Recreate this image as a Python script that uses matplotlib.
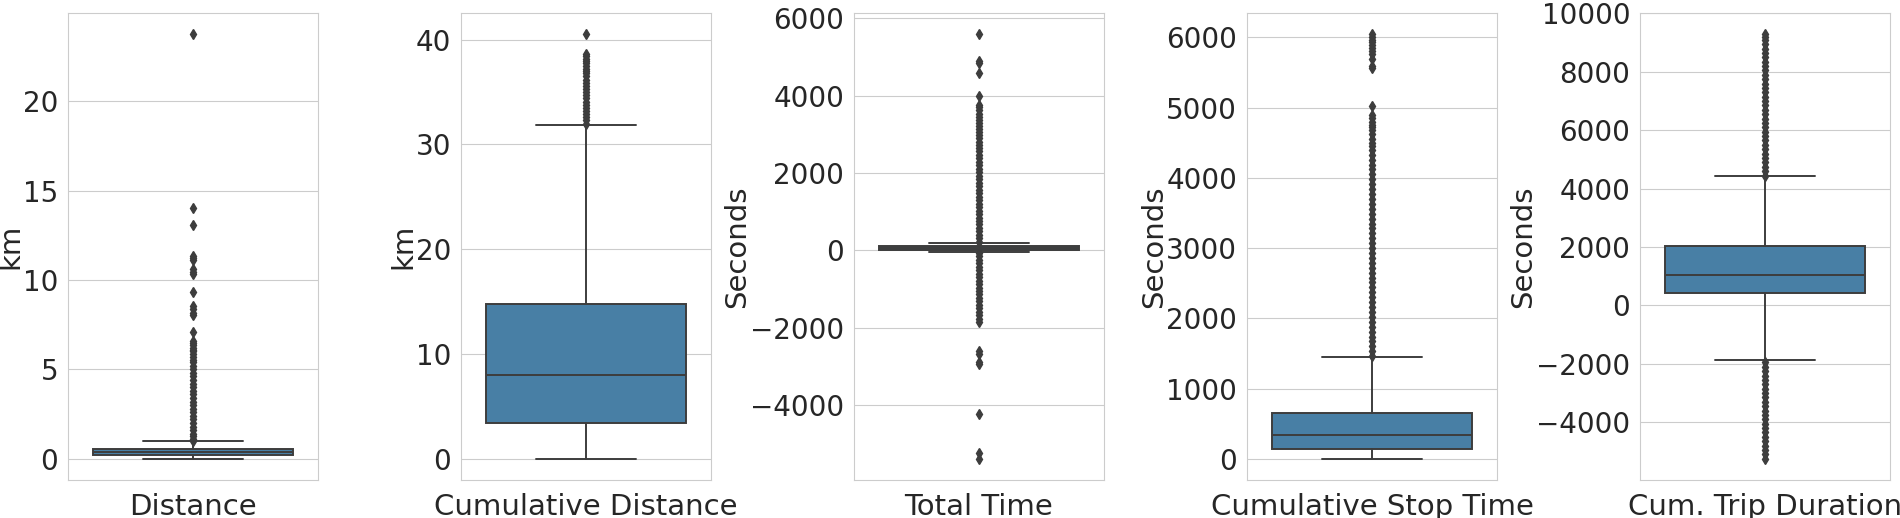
import matplotlib.pyplot as plt
import seaborn as sns
from matplotlib.ticker import MultipleLocator

# one box per column of the trip table
labels = ["Distance", "Cumulative Distance", "Total Time", "Cumulative Stop Time", "Cum. Trip Duration"]
units = ["km", "km", "Seconds", "Seconds", "Seconds"]
tick_steps = [5, 10, 2000, 1000, 2000]

q1 = [0.2, 3.37, 10, 137, 434]
medians = [0.37, 7.95, 55, 340, 1060]
q3 = [0.52, 14.78, 110, 657, 2027]
whislo = [0.0, 0.0, -45, 0, -1870]
whishi = [0.97, 31.9, 195, 1446, 4420]

# outliers (dense runs read at marker spacing)
fliers_distance = [23.76, 14.05, 13.1, 11.35, 11.2, 11.1, 10.6, 10.45, 10.35, 9.3, 8.55, 8.4,
                   8.15, 8.05, 7.1, 6.6, 6.5, 6.35, 6.2, 6.1, 6.0, 5.85, 5.7, 5.55, 5.4, 5.2,
                   5.0, 4.8, 4.6, 4.4, 4.2, 4.0, 3.8, 3.6, 3.4, 3.2, 3.0, 2.8, 2.6, 2.4, 2.2,
                   2.0, 1.8, 1.6, 1.4, 1.25, 1.1, 1.0]
fliers_cum_distance = [40.55, 38.6, 38.4, 38.2, 38.0, 37.8, 37.5, 37.2, 37.0, 36.8, 36.5, 36.2,
                       35.9, 35.6, 35.3, 35.0, 34.7, 34.4, 34.1, 33.8, 33.5, 33.2, 32.9, 32.6,
                       32.3, 32.0]
fliers_total_time = [5600, 4910, 4860, 4600, 4000, 3760, 3700, 3620, 3540, 3460, 3380, 3300,
                     3220, 3140, 3060, 2980, 2900, 2800, 2720, 2640, 2560, 2470, 2380, 2290,
                     2200, 2110, 2020, 1930, 1840, 1750, 1660, 1570, 1480, 1390, 1300, 1210,
                     1120, 1030, 940, 850, 760, 670, 580, 490, 400, 310, 230,
                     -60, -150, -240, -330, -420, -510, -600, -690, -780, -870, -960, -1050,
                     -1140, -1230, -1320, -1410, -1500, -1590, -1680, -1770, -1860,
                     -2610, -2680, -2880, -2950, -4220, -5240, -5390]
fliers_stop_time = [6050, 6010, 5970, 5930, 5890, 5850, 5800, 5760, 5700, 5600, 5570,
                    5030, 4900, 4850, 4800, 4760, 4720, 4680, 4620, 4560, 4500, 4460, 4400,
                    4330, 4260, 4190, 4120, 4050, 3980, 3910, 3840, 3770, 3700, 3630, 3560,
                    3490, 3420, 3350, 3280, 3210, 3140, 3070, 3000, 2930, 2860, 2790, 2720,
                    2650, 2580, 2510, 2440, 2370, 2300, 2230, 2160, 2090, 2020, 1950, 1880,
                    1810, 1740, 1670, 1600, 1530, 1460]
fliers_trip_duration = [9300, 9200, 9080, 8950, 8800, 8650, 8500, 8350, 8200, 8050, 7900, 7750,
                        7600, 7450, 7300, 7150, 7000, 6850, 6700, 6550, 6400, 6250, 6100, 5950,
                        5800, 5650, 5500, 5350, 5200, 5050, 4900, 4750, 4600, 4450,
                        -1950, -2100, -2250, -2400, -2550, -2700, -2850, -3000, -3150, -3300,
                        -3450, -3600, -3750, -3900, -4050, -4200, -4350, -4500, -4650, -4800,
                        -4950, -5100, -5250]
fliers = [fliers_distance, fliers_cum_distance, fliers_total_time, fliers_stop_time,
          fliers_trip_duration]

sns.set_style("whitegrid")
plt.rcParams["font.family"] = ["DejaVu Sans"]

box_color = "#487fa5"
line_color = "#3d3d3d"

fig, axes = plt.subplots(1, 5, figsize=(19, 5.18), dpi=100)
fig.subplots_adjust(left=0.0358, right=0.9947, bottom=0.0734, top=0.9755, wspace=0.572)

for i, ax in enumerate(axes):
    stats = [{
        "q1": q1[i], "med": medians[i], "q3": q3[i],
        "whislo": whislo[i], "whishi": whishi[i], "fliers": fliers[i],
    }]
    line = {"color": line_color, "linewidth": 1.4}
    ax.bxp(stats, positions=[0], widths=0.8, capwidths=0.4, patch_artist=True,
           boxprops={"facecolor": box_color, "edgecolor": line_color, "linewidth": 1.4},
           medianprops=line, whiskerprops=line, capprops=line,
           flierprops={"marker": "d", "markersize": 5, "markerfacecolor": line_color,
                       "markeredgecolor": line_color, "linestyle": "none"})
    ax.set_xlim(-0.5, 0.5)
    ax.set_xticks([0])
    ax.set_xticklabels([labels[i]], fontsize=21, color="#262626")
    ax.yaxis.set_major_locator(MultipleLocator(tick_steps[i]))
    ax.set_ylabel(units[i], fontsize=21, color="#262626", labelpad=-1)
    ax.tick_params(axis="y", labelsize=20, labelcolor="#262626")
    ax.tick_params(axis="x", pad=6)
    ax.xaxis.grid(False)

plt.savefig("out.png")
